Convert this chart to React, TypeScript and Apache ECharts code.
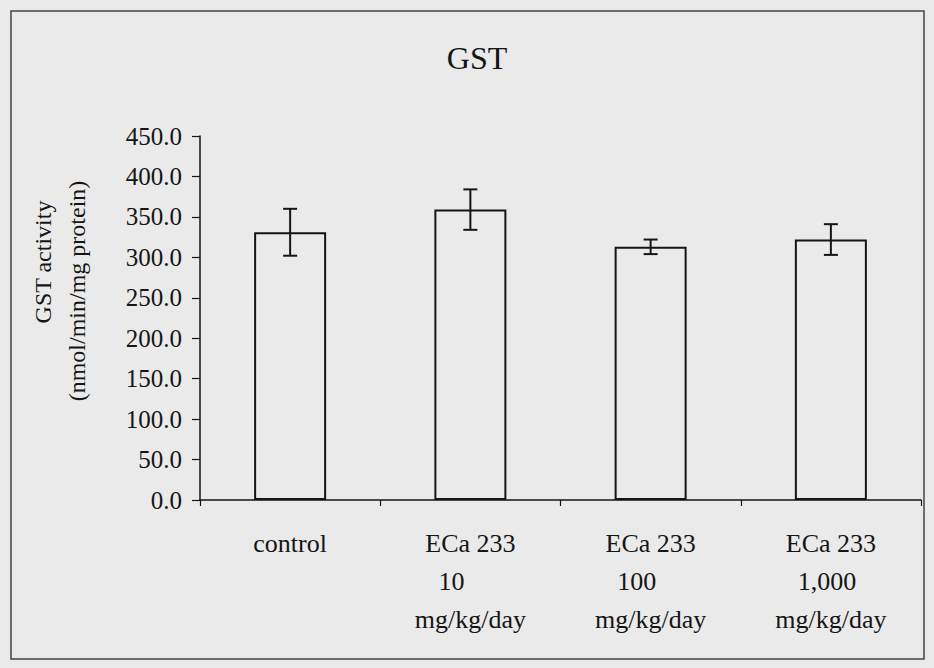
import React, { useEffect, useRef } from 'react';
import * as echarts from 'echarts';

const categories = ['control', 'ECa 233\n10\nmg/kg/day', 'ECa 233\n100\nmg/kg/day', 'ECa 233\n1,000\nmg/kg/day'];
const means = [331, 359, 313, 322];
const errors = [29, 25, 9, 19];
const yMin = 0;
const yMax = 450;
const yInterval = 50;
const chartTitle = 'GST';
const yTitleLines = ['GST activity', '(nmol/min/mg protein)'];

const SERIF = 'Liberation Serif, Times New Roman, serif';
const BG = '#eaeaea';
const INK = '#151515';
const midLinePad = [0, 38, 28, 8];

export default function App() {
  const ref = useRef<HTMLDivElement>(null);

  useEffect(() => {
    if (!ref.current) return;
    const chart = echarts.init(ref.current, null, { renderer: 'svg' });

    const rich: Record<string, any> = {};
    midLinePad.forEach((p, i) => {
      rich['m' + i] = {
        fontFamily: SERIF,
        fontSize: 26,
        color: INK,
        lineHeight: 38,
        padding: [0, p, 0, 0],
      };
    });

    const option: any = {
      animation: false,
      backgroundColor: BG,
      textStyle: { fontFamily: SERIF },
      grid: { left: 200, right: 13, top: 136, bottom: 168, containLabel: false },
      graphic: [
        {
          type: 'rect',
          shape: { x: 11, y: 11, width: 913, height: 648 },
          style: { fill: 'none', stroke: '#444', lineWidth: 1.5 },
          silent: true,
        },
        {
          type: 'text',
          x: 477,
          y: 58,
          style: {
            text: chartTitle,
            font: `32px ${SERIF}`,
            fill: INK,
            align: 'center',
            verticalAlign: 'middle',
          },
        },
        {
          type: 'text',
          x: 43,
          y: 262,
          rotation: Math.PI / 2,
          style: {
            text: yTitleLines[0],
            font: `24px ${SERIF}`,
            fill: INK,
            align: 'center',
            verticalAlign: 'middle',
          },
        },
        {
          type: 'text',
          x: 77,
          y: 291,
          rotation: Math.PI / 2,
          style: {
            text: yTitleLines[1],
            font: `24px ${SERIF}`,
            fill: INK,
            align: 'center',
            verticalAlign: 'middle',
          },
        },
      ],
      xAxis: {
        type: 'category',
        data: categories,
        boundaryGap: true,
        axisLine: { show: true, lineStyle: { color: INK, width: 1.5 } },
        axisTick: { show: true, alignWithLabel: false, length: 6, lineStyle: { color: INK, width: 1.2 } },
        axisLabel: {
          interval: 0,
          margin: 24,
          fontFamily: SERIF,
          fontSize: 26,
          color: INK,
          lineHeight: 38,
          rich,
          formatter: (value: string, index: number) => {
            const lines = value.split('\n');
            if (lines.length < 3) return lines.join('\n');
            return `${lines[0]}\n{m${index}|${lines[1]}}\n${lines[2]}`;
          },
        },
        splitLine: { show: false },
      },
      yAxis: {
        type: 'value',
        min: yMin,
        max: yMax,
        interval: yInterval,
        axisLine: { show: true, lineStyle: { color: INK, width: 1.5 } },
        axisTick: { show: true, length: 8, lineStyle: { color: INK, width: 1.2 } },
        axisLabel: {
          margin: 18,
          fontFamily: SERIF,
          fontSize: 25,
          color: INK,
          formatter: (v: number) => v.toFixed(1),
        },
        splitLine: { show: false },
      },
      series: [
        {
          type: 'bar',
          data: means,
          barWidth: 72,
          itemStyle: { color: BG, borderColor: INK, borderWidth: 2 },
          z: 2,
        },
        {
          type: 'custom',
          z: 3,
          data: means.map((m, i) => [i, m, errors[i]]),
          encode: { x: 0, y: 1 },
          renderItem: (params: any, api: any) => {
            const x = api.value(0);
            const m = api.value(1);
            const e = api.value(2);
            const top = api.coord([x, m + e]);
            const bot = api.coord([x, m - e]);
            const cap = 7;
            const style = { stroke: INK, lineWidth: 2 };
            return {
              type: 'group',
              children: [
                { type: 'line', shape: { x1: top[0], y1: top[1], x2: bot[0], y2: bot[1] }, style },
                { type: 'line', shape: { x1: top[0] - cap, y1: top[1], x2: top[0] + cap, y2: top[1] }, style },
                { type: 'line', shape: { x1: bot[0] - cap, y1: bot[1], x2: bot[0] + cap, y2: bot[1] }, style },
              ],
            };
          },
        },
      ],
    };

    chart.setOption(option);
    return () => chart.dispose();
  }, []);

  return (
    <div
      ref={ref}
      style={{ position: 'absolute', left: 0, top: 0, width: 934, height: 668, background: BG }}
    />
  );
}
